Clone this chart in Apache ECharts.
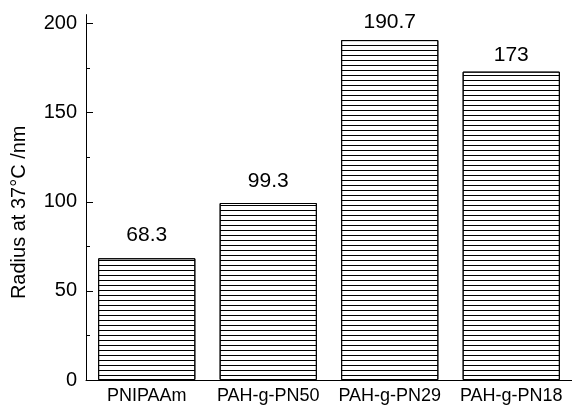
<!DOCTYPE html>
<html>
<head>
<meta charset="utf-8">
<script src="https://cdn.jsdelivr.net/npm/echarts@6/dist/echarts.min.js"></script>
<style>html,body{margin:0;padding:0;background:#fff}#c{width:572px;height:406px}</style>
</head>
<body>
<div id="c"></div>
<script>
var categories = ['PNIPAAm', 'PAH-g-PN50', 'PAH-g-PN29', 'PAH-g-PN18'];
var radius = [68.3, 99.3, 190.7, 173];
var majorTicks = [0, 50, 100, 150, 200];
var minorTicks = [25, 75, 125, 175];
// label gap above each bar (style only)
var labelGaps = [13, 11, 7, 6];

var font = 'Liberation Sans, Arial, sans-serif';
var seriesData = radius.map(function (v, i) {
  return {value: v, label: {distance: labelGaps[i]}};
});
var chart = echarts.init(document.getElementById('c'), null, {renderer: 'canvas'});
chart.setOption({
  animation: false,
  backgroundColor: '#fff',
  grid: {left: 86, right: 0, top: 14.6, bottom: 26, containLabel: false, outerBoundsMode: 'none'},
  xAxis: {
    type: 'category',
    data: categories,
    axisLine: {show: true, lineStyle: {color: '#000', width: 1}},
    axisTick: {show: true, inside: true, alignWithLabel: true, length: 4, lineStyle: {color: '#000'}},
    axisLabel: {color: '#000', fontSize: 18, fontFamily: font, margin: 7, interval: 0},
    splitLine: {show: false}
  },
  yAxis: [{
    type: 'value',
    min: 0, max: 205,
    position: 'left',
    name: 'Radius at 37°C /nm',
    nameLocation: 'middle',
    nameGap: 57,
    nameTextStyle: {color: '#000', fontSize: 20, fontFamily: font, padding: [0, 30, 0, 0]},
    axisLine: {show: true, lineStyle: {color: '#000', width: 1}},
    axisTick: {show: true, inside: true, length: 7, customValues: majorTicks, lineStyle: {color: '#000'}},
    axisLabel: {color: '#000', fontSize: 20, fontFamily: font, margin: 9, customValues: majorTicks},
    splitLine: {show: false}
  }, {
    type: 'value',
    min: 0, max: 205,
    position: 'left',
    offset: 0,
    axisLine: {show: false},
    axisTick: {show: true, inside: true, length: 4, customValues: minorTicks, lineStyle: {color: '#000'}},
    axisLabel: {show: false},
    splitLine: {show: false}
  }],
  series: [{
    type: 'bar',
    data: seriesData,
    barCategoryGap: '20%',
    itemStyle: {
      color: '#fff',
      borderColor: '#000',
      borderWidth: 1,
      decal: {
        symbol: 'rect',
        symbolSize: 1,
        color: '#000',
        dashArrayX: [1, 0],
        dashArrayY: [1, 4],
        rotation: 0
      }
    },
    label: {
      show: true,
      position: 'top',
      distance: 13,
      color: '#000',
      fontSize: 21,
      fontFamily: font
    }
  }]
});
</script>
</body>
</html>
